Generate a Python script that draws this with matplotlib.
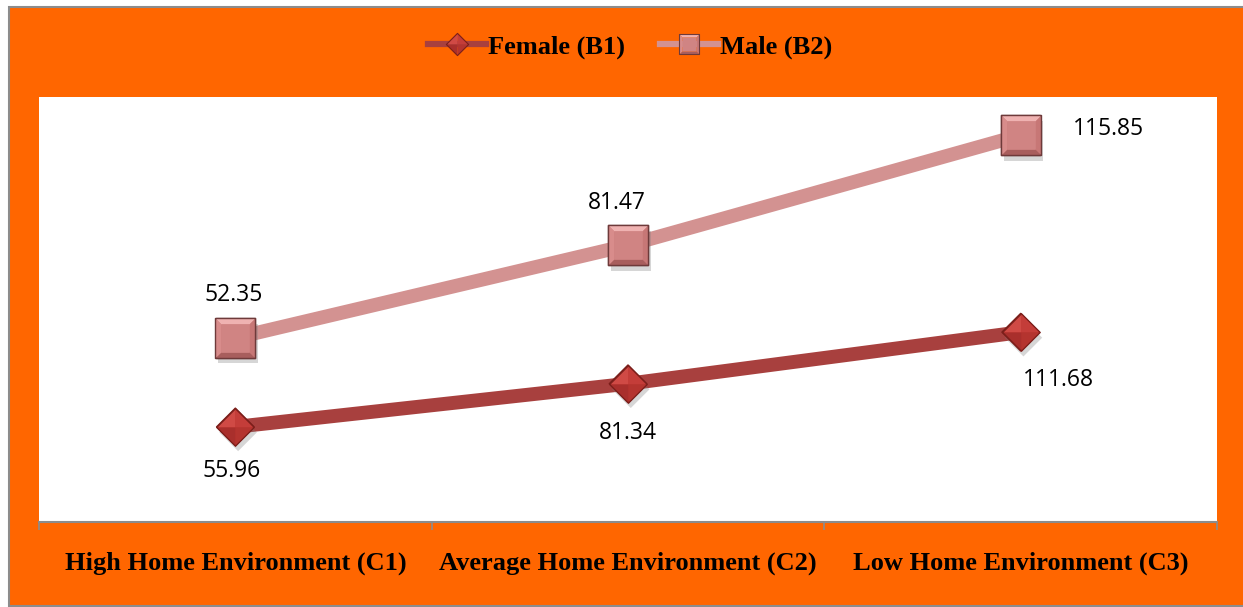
import matplotlib
matplotlib.use("Agg")
import matplotlib.pyplot as plt
import matplotlib.patheffects as pe
from matplotlib.patches import Rectangle
from matplotlib.lines import Line2D
from matplotlib.path import Path
from matplotlib.legend_handler import HandlerTuple
import numpy as np

categories = ["High Home Environment (C1)", "Average Home Environment (C2)", "Low Home Environment (C3)"]
female = [55.96, 81.34, 111.68]
male = [52.35, 81.47, 115.85]
series_names = ["Female (B1)", "Male (B2)"]

# stacked line chart: male is drawn on top of female
female_top = np.array(female)
male_top = female_top + np.array(male)

FEMALE_LINE = "#A8403E"
MALE_LINE = "#D39291"

W, H = 1243, 607
fig = plt.figure(figsize=(W / 100, H / 100), dpi=100)
fig.patch.set_facecolor("white")

# orange chart area with grey border
fig.patches.append(Rectangle((9 / W, 1 / H), (W - 9) / W + 0.01, (H - 8) / H,
                             transform=fig.transFigure, facecolor="#FF6600",
                             edgecolor="#8C8C8C", linewidth=1.5, zorder=-5))

ax = fig.add_axes([39 / W, (H - 522) / H, (1217 - 39) / W, (522 - 97) / H])
ax.set_zorder(1)
ax.set_facecolor("white")
ax.set_xlim(-0.5, 2.5)
ax.set_ylim(0, 250)
ax.set_yticks([])
for s in ["left", "right", "top"]:
    ax.spines[s].set_visible(False)
ax.spines["bottom"].set_color("#8C8C8C")
ax.spines["bottom"].set_linewidth(1.5)

x = np.arange(len(categories))
ax.set_xticks([-0.5, 0.5, 1.5, 2.5])
ax.set_xticklabels([])
ax.tick_params(axis="x", length=6, width=1.2, color="#8C8C8C", direction="out")
for xi, lab in zip(x, categories):
    ax.annotate(lab, (xi, 0), xytext=(0, -41), textcoords="offset pixels",
                ha="center", va="center", fontsize=19, fontweight="bold",
                family="Liberation Serif", color="black", annotation_clip=False)


# bevelled marker pieces (all touch the unit outline so they scale alike)
def poly(pts):
    pts = list(pts) + [pts[0]]
    return Path(pts, [Path.MOVETO] + [Path.LINETO] * (len(pts) - 2) + [Path.CLOSEPOLY])


b = 0.72
square_pieces = [
    (poly([(-1, 1), (1, 1), (b, b), (-b, b)]), "#EFB2B1"),     # top bevel
    (poly([(-1, 1), (-b, b), (-b, -b), (-1, -1)]), "#D88C8B"),  # left bevel
    (poly([(1, 1), (1, -1), (b, -b), (b, b)]), "#C77776"),      # right bevel
    (poly([(-1, -1), (-b, -b), (b, -b), (1, -1)]), "#A85E5D"),  # bottom bevel
]
square_face = (poly([(-1, 1), (1, 1), (1, -1), (-1, -1)]), "#D08483")
square_outline = poly([(-1, 1), (1, 1), (1, -1), (-1, -1)])

diamond_pieces = [
    (poly([(-1, 0), (0, 1), (0, 0)]), "#D04A45"),
    (poly([(0, 1), (1, 0), (0, 0)]), "#C43D39"),
    (poly([(-1, 0), (0, 0), (0, -1)]), "#A92F2C"),
    (poly([(0, 0), (1, 0), (0, -1)]), "#B4342F"),
]
diamond_outline = poly([(-1, 0), (0, 1), (1, 0), (0, -1)])

shadow = [pe.SimplePatchShadow(offset=(2, -4), shadow_rgbFace="#7A7A7A", alpha=0.3), pe.Normal()]


def draw_square(xs, ys, ms, z):
    ax.plot(xs, ys, ls="none", marker=square_outline, ms=ms, mfc="#CF8180",
            mec="#6E3A3A", mew=1.0, zorder=z, path_effects=shadow)
    for p, c in square_pieces:
        ax.plot(xs, ys, ls="none", marker=p, ms=ms, mfc=c, mec="none", zorder=z + 0.1)
    ax.plot(xs, ys, ls="none", marker=square_face[0], ms=ms * b, mfc=square_face[1],
            mec="none", zorder=z + 0.2)
    ax.plot(xs, ys, ls="none", marker=square_outline, ms=ms, mfc="none",
            mec="#6E3A3A", mew=1.0, zorder=z + 0.3)


def draw_diamond(xs, ys, ms, z):
    ax.plot(xs, ys, ls="none", marker=diamond_outline, ms=ms, mfc="#B8312C",
            mec="#7A1E1A", mew=1.0, zorder=z, path_effects=shadow)
    for p, c in diamond_pieces:
        ax.plot(xs, ys, ls="none", marker=p, ms=ms, mfc=c, mec="none", zorder=z + 0.1)
    ax.plot(xs, ys, ls="none", marker=diamond_outline, ms=ms, mfc="none",
            mec="#7A1E1A", mew=0.9, zorder=z + 0.3)


# lines
ax.plot(x, female_top, color=FEMALE_LINE, lw=10, solid_capstyle="butt", zorder=2)
ax.plot(x, male_top, color=MALE_LINE, lw=10, solid_capstyle="butt", zorder=2)
draw_diamond(x, female_top, 27, 3)
draw_square(x, male_top, 28.5, 3)

# data labels
label_kw = dict(textcoords="offset pixels", ha="center", va="center", fontsize=16.5,
                family="Open Sans", color="black", annotation_clip=False)
f_offsets = [(-4, -44), (0, -49), (38, -48)]
m_offsets = [(-2, 43), (-11, 42), (88, 6)]
for xi, yv, v, off in zip(x, female_top, female, f_offsets):
    ax.annotate(f"{v:.2f}", (xi, yv), xytext=off, **label_kw)
for xi, yv, v, off in zip(x, male_top, male, m_offsets):
    ax.annotate(f"{v:.2f}", (xi, yv), xytext=off, **label_kw)

# legend handles: line plus bevelled marker pieces overlaid
f_handle = tuple([Line2D([], [], color=FEMALE_LINE, lw=4.5)] +
                 [Line2D([], [], ls="none", marker=p, ms=16, mfc=c, mec="none") for p, c in diamond_pieces] +
                 [Line2D([], [], ls="none", marker=diamond_outline, ms=16, mfc="none", mec="#7A1E1A", mew=0.8)])
m_handle = tuple([Line2D([], [], color=MALE_LINE, lw=4.5)] +
                 [Line2D([], [], ls="none", marker=p, ms=14, mfc=c, mec="none") for p, c in square_pieces] +
                 [Line2D([], [], ls="none", marker=square_face[0], ms=14 * b, mfc=square_face[1], mec="none"),
                  Line2D([], [], ls="none", marker=square_outline, ms=14, mfc="none", mec="#6E3A3A", mew=0.8)])
fig.legend([f_handle, m_handle], series_names, loc="center", bbox_to_anchor=(630 / W, (H - 47) / H),
           ncol=2, frameon=False, handlelength=2.2, handletextpad=0.1, columnspacing=1.3,
           handler_map={tuple: HandlerTuple(ndivide=1, pad=0)},
           prop={"family": "Liberation Serif", "weight": "bold", "size": 19})

fig.savefig("out.png", dpi=100)
